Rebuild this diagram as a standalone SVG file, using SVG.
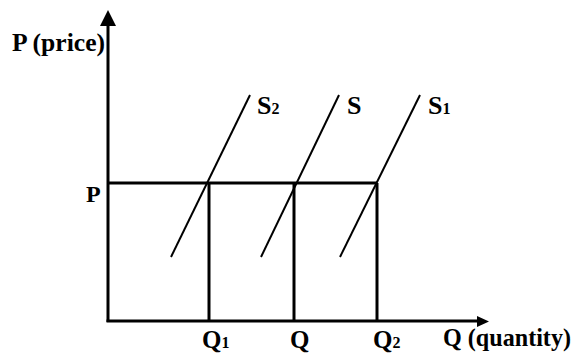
<svg xmlns="http://www.w3.org/2000/svg" width="576" height="355" viewBox="0 0 576 355">
<style>
.t{font-family:"Liberation Serif","Times New Roman",serif;font-weight:bold;fill:#000}
.ax{stroke:#000;stroke-width:3;fill:none}
.s{stroke:#000;stroke-width:2;fill:none}
</style>
<rect width="576" height="355" fill="#fff"/>
<g id="axes">
<line class="ax" x1="108" y1="322" x2="108" y2="22"/>
<polygon points="108,10 100,26 116,26" fill="#000"/>
<line class="ax" x1="106.5" y1="321" x2="479" y2="321"/>
<polygon points="489,321.5 477,316 477,327" fill="#000"/>
<text class="t" x="12" y="51" font-size="26" textLength="93" lengthAdjust="spacingAndGlyphs">P (price)</text>
<text class="t" x="443" y="346" font-size="25" textLength="128" lengthAdjust="spacingAndGlyphs">Q (quantity)</text>
</g>
<g id="price-line">
<line class="ax" x1="108" y1="183" x2="377" y2="183"/>
<text class="t" x="86" y="202" font-size="24">P</text>
</g>
<g id="quantities">
<line class="ax" x1="209" y1="183" x2="209" y2="321"/>
<line class="ax" x1="294" y1="183" x2="294" y2="321"/>
<line class="ax" x1="377" y1="183" x2="377" y2="321"/>
<text class="t" x="202" y="348" font-size="25">Q<tspan font-size="16">1</tspan></text>
<text class="t" x="290" y="348" font-size="25">Q</text>
<text class="t" x="373" y="348" font-size="25">Q<tspan font-size="16">2</tspan></text>
</g>
<g id="supply">
<line class="s" x1="250" y1="95" x2="171" y2="257"/>
<line class="s" x1="339" y1="95" x2="261" y2="257"/>
<line class="s" x1="420" y1="95" x2="340" y2="257"/>
<text class="t" x="257" y="114" font-size="26">S<tspan font-size="16">2</tspan></text>
<text class="t" x="347" y="114" font-size="26">S</text>
<text class="t" x="428" y="114" font-size="26">S<tspan font-size="16">1</tspan></text>
</g>
</svg>
